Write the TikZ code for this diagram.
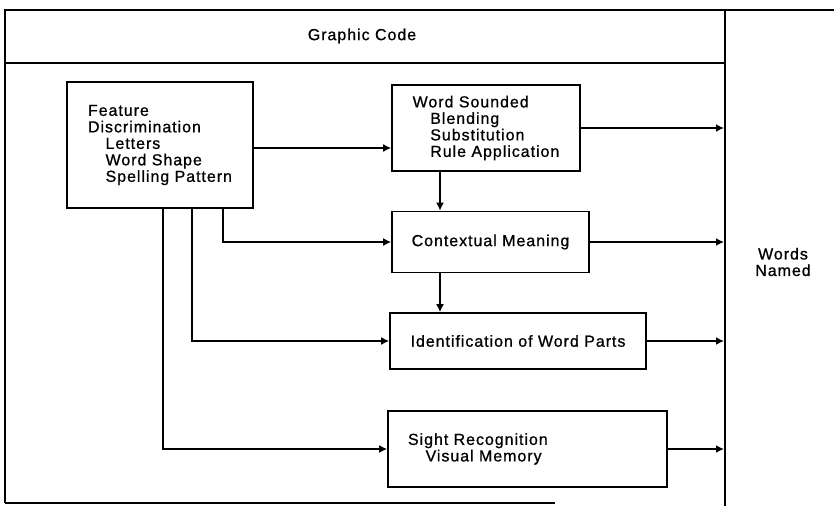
\documentclass[tikz,border=0pt]{standalone}
\usepackage{fontspec}
\setmainfont{Liberation Sans}[LetterSpace=6, FakeBold=0.8]
\usetikzlibrary{positioning,arrows.meta}

\newcommand{\ind}{\hspace*{1.1em}}

\begin{document}
\begin{tikzpicture}[
  x=1pt, y=-1pt,
  >={Latex[length=8pt,width=8pt]},
  line width=1.6pt,
  every node/.style={font=\fontsize{16}{16.5}\selectfont, inner sep=0pt},
  box/.style={draw, rectangle, line width=1.6pt}
]
  \useasboundingbox (0,0) rectangle (834,506);

  % frame
  \draw (5,503) -- (5,10) -- (834,10);
  \draw (5,63) -- (725,63);
  \draw (725,10) -- (725,506);
  \draw (5,503) -- (555,503);
  \coordinate (rline) at (724,0);

  \node (tCode) at (362,36) {Graphic Code};
  \node[align=center] (tNamed) at (783,262) {Words\\Named};

  \node[box, minimum width=186pt, minimum height=126pt, align=left] (bFeat) at (160,145)
    {Feature\\Discrimination\\\ind Letters\\\ind Word Shape\\\ind Spelling Pattern};
  \node[box, minimum width=188pt, minimum height=86pt, align=left] (bSound) at (486,128)
    {Word Sounded\\\ind Blending\\\ind Substitution\\\ind Rule Application};
  \node[box, minimum width=197pt, minimum height=61pt] (bCtx) at (490.5,242)
    {Contextual Meaning};
  \node[box, minimum width=256pt, minimum height=56pt] (bParts) at (518,341)
    {Identification of Word Parts};
  \node[box, text width=239pt, inner xsep=20pt, minimum height=76pt, align=left] (bSight) at (527.5,449)
    {Sight Recognition\\\ind Visual Memory};

  % feature paths
  \draw[->] (bFeat.east |- 0,148) -- (bSound.west |- 0,148);
  \draw[->] (bFeat.south -| 223,0) |- (bCtx.west);
  \draw[->] (bFeat.south -| 192,0) |- (bParts.west);
  \draw[->] (bFeat.south -| 163,0) |- (bSight.west);

  % downward
  \draw[->] (bSound.south -| 440,0) -- (bCtx.north -| 440,0);
  \draw[->] (bCtx.south -| 440,0) -- (bParts.north -| 440,0);

  % to words named
  \foreach \b in {bSound,bCtx,bParts,bSight}
    \draw[->] (\b.east) -- (\b.east -| rline);
\end{tikzpicture}
\end{document}
